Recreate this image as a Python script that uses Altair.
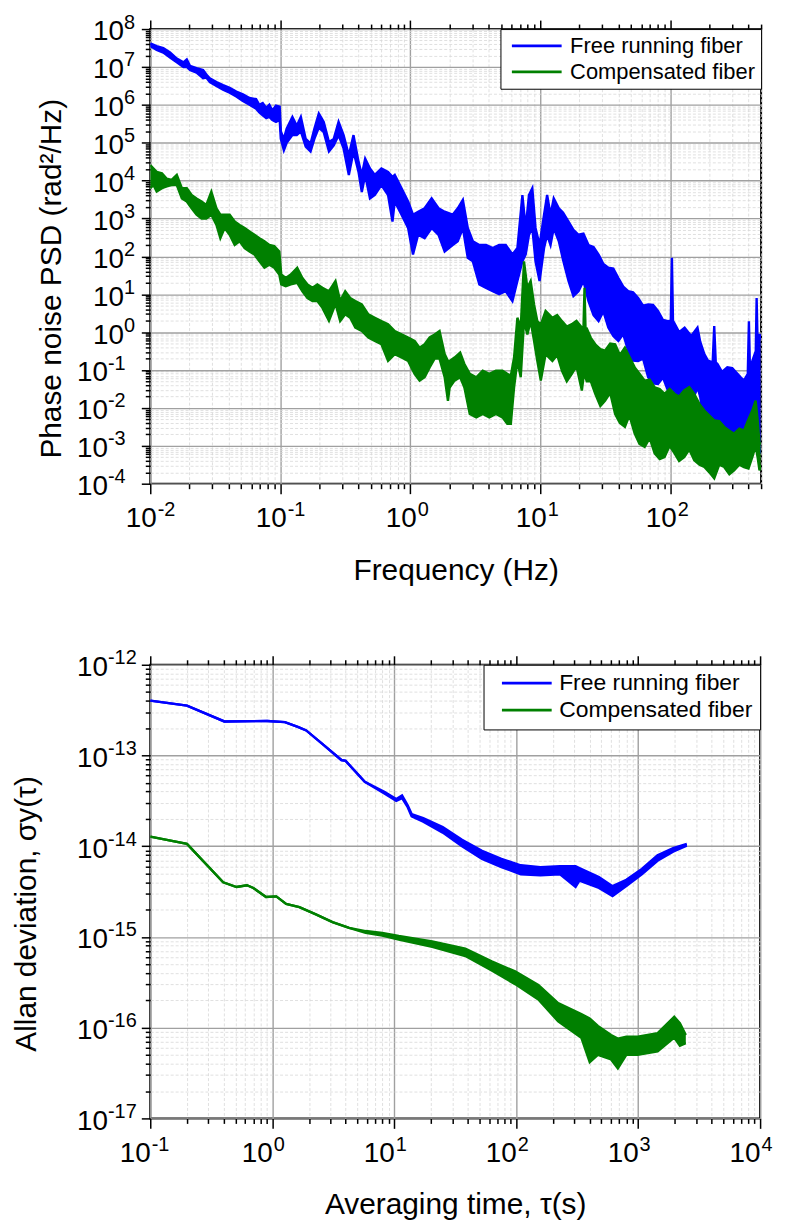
import altair as alt
import pandas as pd

# ---------------- Top panel: phase noise PSD ----------------
# frequency (Hz); lower / upper envelope of the noisy trace, in decades (log10 rad^2/Hz)
free_psd_freq = [
    0.0100, 0.0112, 0.0126, 0.0142, 0.0160, 0.0180, 0.0191, 0.0202, 0.0227, 0.0255,
    0.0270, 0.0287, 0.0323, 0.0363, 0.0408, 0.0459, 0.0516, 0.0580, 0.0652, 0.0690,
    0.0733, 0.0780, 0.0824, 0.0870, 0.0927, 0.0990, 0.1010, 0.1066, 0.1120, 0.1240,
    0.1340, 0.1440, 0.1570, 0.1710, 0.1830, 0.1980, 0.2160, 0.2370, 0.2580, 0.2810,
    0.3070, 0.3370, 0.3660, 0.4000, 0.4240, 0.4500, 0.4900, 0.5340, 0.6000, 0.6750,
    0.7300, 0.7600, 0.8570, 0.9630, 1.05, 1.15, 1.29, 1.46, 1.65, 1.84,
    2.12, 2.32, 2.54, 2.77, 3.03, 3.40, 3.83, 4.31, 4.83, 5.43,
    6.11, 6.67, 7.29, 7.73, 8.19, 8.69, 9.20, 9.88, 10.7, 11.3,
    12.0, 12.7, 13.9, 15.0, 16.5, 18.0, 19.7, 21.5, 23.5, 25.7,
    28.1, 30.6, 33.4, 36.5, 39.9, 43.5, 47.5, 51.8, 56.6, 61.8,
    67.6, 73.8, 80.5, 88.0, 96.0, 101, 103, 105, 107, 117,
    129, 145, 162, 170, 183, 195, 212, 218, 224, 231,
    250, 275, 300, 329, 350, 369, 395, 403, 410, 428,
    455, 462, 470, 486, 495,
]
free_psd_lo_dec = [
    7.55, 7.45, 7.38, 7.25, 7.12, 7.00, 7.00, 6.92, 6.85, 6.70,
    6.72, 6.60, 6.50, 6.40, 6.32, 6.22, 6.10, 6.00, 5.90, 5.80,
    5.72, 5.65, 5.68, 5.60, 5.55, 5.60, 5.10, 4.80, 5.00, 5.20,
    5.20, 5.30, 4.90, 4.77, 5.10, 5.40, 5.28, 4.77, 4.93, 5.20,
    4.85, 4.15, 4.77, 4.23, 3.70, 4.15, 3.53, 3.62, 3.88, 3.62,
    2.92, 3.45, 3.10, 2.75, 2.05, 2.57, 2.48, 2.75, 2.57, 2.13,
    2.30, 2.40, 2.75, 1.96, 1.87, 1.26, 1.17, 1.08, 1.00, 1.08,
    0.82, 1.35, 1.87, 2.05, 2.57, 2.75, 1.87, 1.35, 2.22, 2.57,
    2.30, 2.75, 2.40, 1.90, 1.35, 0.95, 1.08, 1.35, 0.82, 0.45,
    0.29, 0.55, 0.12, -0.10, -0.23, -0.05, -0.49, -0.75, -0.76, -0.70,
    -1.19, -1.35, -1.37, -1.20, -1.54, -1.50, -1.40, -1.50, -1.60, -2.00,
    -1.63, -1.90, -1.46, -1.70, -2.50, -2.30, -2.70, -2.77, -2.80, -2.85,
    -2.60, -2.95, -2.75, -3.12, -3.05, -2.85, -2.50, -2.07, -2.50, -2.95,
    -2.00, -1.63, -2.50, -3.20, -3.10,
]
free_psd_hi_dec = [
    7.62, 7.55, 7.50, 7.38, 7.22, 7.12, 7.20, 7.03, 6.97, 6.92,
    6.80, 6.70, 6.60, 6.52, 6.45, 6.35, 6.28, 6.18, 6.15, 6.00,
    6.05, 5.92, 6.00, 5.85, 5.98, 5.95, 5.30, 5.10, 5.37, 5.68,
    5.45, 5.68, 5.10, 4.98, 5.37, 5.77, 5.55, 5.02, 5.10, 5.55,
    5.20, 4.67, 5.20, 4.50, 4.15, 4.58, 4.32, 4.15, 4.32, 4.23,
    4.10, 4.15, 3.80, 3.45, 3.10, 3.18, 3.27, 3.53, 3.27, 3.18,
    3.10, 3.27, 3.49, 2.75, 2.40, 2.30, 2.30, 2.22, 2.30, 2.30,
    2.05, 2.22, 3.62, 2.75, 3.62, 3.80, 2.75, 2.30, 3.10, 3.62,
    3.10, 3.53, 3.27, 3.15, 2.92, 2.70, 2.57, 2.60, 2.30, 2.25,
    2.05, 1.80, 1.70, 1.68, 1.43, 1.20, 1.08, 1.05, 0.90, 0.70,
    0.73, 0.72, 0.56, 0.32, 0.29, 0.30, 1.96, 0.30, 0.25, 0.00,
    0.12, -0.10, 0.12, -0.25, -0.58, -0.75, -0.80, 0.16, -0.80, -0.84,
    -1.05, -0.93, -0.95, -1.10, -1.20, -1.28, -1.10, 0.29, -0.90, -0.76,
    -0.50, 0.90, -0.30, -0.05, -0.20,
]

comp_psd_freq = [
    0.0100, 0.0106, 0.0112, 0.0123, 0.0134, 0.0146, 0.0160, 0.0175, 0.0191, 0.0208,
    0.0227, 0.0248, 0.0270, 0.0295, 0.0323, 0.0346, 0.0373, 0.0408, 0.0446, 0.0487,
    0.0532, 0.0580, 0.0633, 0.0692, 0.0755, 0.0824, 0.0900, 0.0983, 0.1018, 0.1102,
    0.1205, 0.1350, 0.1480, 0.1620, 0.1770, 0.1930, 0.2110, 0.2370, 0.2660, 0.2890,
    0.3160, 0.3450, 0.3780, 0.4240, 0.4760, 0.5340, 0.6000, 0.6750, 0.7600, 0.8570,
    0.9630, 1.08, 1.18, 1.29, 1.41, 1.54, 1.68, 1.84, 1.95, 2.01,
    2.19, 2.42, 2.61, 2.87, 3.22, 3.61, 4.06, 4.56, 5.12, 5.58,
    5.94, 6.29, 6.67, 7.08, 7.50, 7.96, 8.44, 8.96, 9.50, 10.1,
    11.0, 12.4, 13.5, 14.7, 16.0, 17.5, 19.0, 20.9, 21.5, 21.9,
    22.3, 22.8, 24.5, 26.5, 29.0, 31.5, 34.5, 37.7, 41.0, 44.8,
    48.5, 53.3, 58.0, 63.6, 69.5, 75.9, 83.0, 90.4, 99.0, 108,
    117, 128, 140, 153, 168, 183, 200, 218, 238, 260,
    285, 310, 340, 369, 400, 428, 454, 470, 486, 495,
]
comp_psd_lo_dec = [
    3.80, 3.88, 3.71, 3.80, 3.85, 3.88, 3.88, 3.53, 3.45, 3.27,
    3.10, 3.00, 3.00, 3.10, 2.83, 2.48, 2.75, 2.57, 2.30, 2.40,
    2.22, 2.13, 2.05, 1.87, 1.70, 1.78, 1.70, 1.52, 1.26, 1.21,
    1.26, 1.30, 1.08, 0.90, 0.82, 0.82, 0.64, 0.30, 0.75, 0.29,
    0.47, 0.38, 0.12, 0.03, -0.14, -0.23, -0.32, -0.76, -0.58, -0.67,
    -0.76, -1.10, -1.28, -1.19, -0.93, -0.70, -0.70, -1.19, -1.81, -1.46,
    -1.28, -1.19, -1.46, -2.16, -2.25, -2.16, -2.25, -2.16, -2.25, -2.42,
    -2.42, -1.46, -0.76, -1.19, 0.29, -0.06, 0.29, -0.23, -0.76, -1.28,
    -0.58, -0.76, -0.60, -1.02, -1.30, -1.10, -0.90, -1.54, -1.20, -1.20,
    -1.20, -1.30, -1.30, -1.63, -1.95, -1.81, -1.60, -2.16, -2.40, -2.50,
    -2.20, -2.68, -2.95, -3.03, -2.80, -3.20, -3.35, -3.30, -3.00, -3.20,
    -3.40, -3.30, -3.10, -3.38, -3.50, -3.56, -3.70, -3.86, -3.50, -3.56,
    -3.75, -3.65, -3.50, -3.56, -3.60, -3.30, -3.00, -3.30, -3.65, -3.50,
]
comp_psd_hi_dec = [
    4.41, 4.32, 4.23, 4.19, 4.05, 4.02, 4.15, 3.80, 3.80, 3.62,
    3.53, 3.45, 3.36, 3.71, 3.27, 3.10, 3.10, 3.10, 2.92, 2.83,
    2.75, 2.66, 2.57, 2.48, 2.40, 2.30, 2.27, 2.13, 1.52, 1.43,
    1.52, 1.70, 1.43, 1.26, 1.17, 1.26, 1.17, 1.08, 1.35, 0.82,
    1.08, 0.90, 0.82, 0.73, 0.47, 0.38, 0.29, 0.21, 0.03, -0.06,
    -0.14, -0.23, -0.41, -0.32, -0.14, -0.06, 0.03, -0.58, -0.76, -0.76,
    -0.67, -0.54, -0.84, -1.10, -1.19, -1.02, -1.10, -1.02, -1.02, -1.10,
    -1.15, -0.67, 0.38, 0.12, 1.87, 1.17, 1.35, 0.73, 0.29, 0.20,
    0.56, 0.38, 0.45, 0.29, 0.15, 0.21, 0.30, 0.12, 0.10, 1.17,
    0.10, 0.10, -0.15, -0.32, -0.45, -0.49, -0.30, -0.32, -0.60, -0.41,
    -0.65, -0.93, -1.10, -1.28, -1.25, -1.46, -1.50, -1.63, -1.50, -1.63,
    -1.70, -1.54, -1.45, -1.63, -1.90, -2.07, -2.20, -2.33, -2.35, -2.50,
    -2.60, -2.68, -2.55, -2.60, -2.30, -2.07, -1.81, -2.30, -2.95, -2.90,
]

# ---------------- Bottom panel: Allan deviation ----------------
free_adev_tau = [0.1, 0.2, 0.405, 0.91, 1.27, 1.64, 1.9, 2.56, 3.69, 4.0,
                 5.74, 8.3, 10.4, 11.6, 12.9, 13.9, 17.3, 25, 36, 52.5,
                 75.7, 109, 158, 229, 307, 330, 477, 617, 800, 1072,
                 1442, 1935, 2506]
free_adev_lo_dec = [-12.395, -12.45, -12.625, -12.62, -12.632, -12.687, -12.724, -12.87, -13.05, -13.06,
                    -13.29, -13.42, -13.50, -13.47, -13.57, -13.67, -13.73, -13.85, -14.00, -14.14,
                    -14.23, -14.31, -14.32, -14.31, -14.45, -14.38, -14.46, -14.55, -14.44, -14.31,
                    -14.16, -14.06, -13.995]
free_adev_hi_dec = [-12.395, -12.45, -12.625, -12.62, -12.632, -12.687, -12.724, -12.87, -13.05, -13.06,
                    -13.29, -13.40, -13.48, -13.44, -13.55, -13.645, -13.69, -13.79, -13.93, -14.05,
                    -14.14, -14.21, -14.23, -14.22, -14.22, -14.24, -14.34, -14.44, -14.37, -14.25,
                    -14.10, -14.02, -13.975]

comp_adev_tau = [0.1, 0.2, 0.396, 0.51, 0.62, 0.70, 0.89, 1.08, 1.30, 1.67,
                 2.28, 3.12, 4.27, 5.83, 7.98, 10.9, 20.5, 38.3, 63, 98,
                 152, 221, 342, 401, 468, 600, 682, 800, 993, 1445,
                 1977, 2200, 2460]
comp_adev_lo_dec = [-13.894, -13.974, -14.398, -14.45, -14.43, -14.46, -14.56, -14.553, -14.635, -14.672,
                    -14.752, -14.837, -14.90, -14.955, -14.985, -15.03, -15.11, -15.21, -15.37, -15.52,
                    -15.69, -15.93, -16.11, -16.38, -16.30, -16.35, -16.45, -16.30, -16.30, -16.26,
                    -16.11, -16.20, -16.17]
comp_adev_hi_dec = [-13.894, -13.974, -14.398, -14.45, -14.43, -14.46, -14.56, -14.553, -14.635, -14.672,
                    -14.752, -14.837, -14.90, -14.935, -14.955, -14.99, -15.05, -15.13, -15.27, -15.38,
                    -15.53, -15.73, -15.85, -15.90, -15.98, -16.08, -16.12, -16.10, -16.10, -16.06,
                    -15.88, -15.95, -16.08]

SERIES = ["Free running fiber", "Compensated fiber"]
BLUE, GREEN = "#0000ff", "#008000"
FONT = "Liberation Sans"

IS_DEC = "abs(log(datum.value)/LN10 - round(log(datum.value)/LN10)) < 0.001"
EXPO = "toString(round(log(datum.value)/LN10))"


def band_df(xs, lo, hi, name):
    return pd.DataFrame({"x": xs, "lo": [10 ** v for v in lo],
                         "hi": [10 ** v for v in hi], "series": name})


def log_ticks(e0, e1, vmax):
    out = []
    for k in range(e0, e1 + 1):
        for m in range(1, 10):
            v = float(f"{m}e{k}")
            if v <= vmax * 1.0001:
                out.append(v)
    return out


def cond(test, a, b):
    return {"condition": {"test": test, "value": a}, "value": b}


def panel(df_free, df_comp, xdom, ydom, xticks, yticks, xdec, ydec,
          xtitle, ytitle, w, h, ytitle_x, x10_off, xexp_off, legend_kw):
    xs = alt.Scale(type="log", domain=xdom, nice=False)
    ys = alt.Scale(type="log", domain=ydom, nice=False)
    corners = pd.DataFrame({"x": xdom, "y": ydom})

    grid_common = dict(
        grid=True,
        gridColor=cond(IS_DEC, "#a0a0a0", "#d8d8d8"),
        gridDash=cond(IS_DEC, [], [3, 2]),
        gridWidth=cond(IS_DEC, 1.4, 0.8),
        ticks=True, tickColor="black", tickWidth=1.5, domain=False,
        labelFont=FONT, labelColor="black", labelFlush=False, labelOverlap=False,
        titleFont=FONT, titleFontSize=30, titleFontWeight="normal", titleColor="black",
    )
    x_main = alt.Axis(
        orient="bottom", values=xticks, tickSize=cond(IS_DEC, 10, 5),
        labelExpr=f"({IS_DEC}) ? '10' : ''", labelFontSize=28,
        labelAlign="right", labelBaseline="top", labelOffset=x10_off, labelPadding=11,
        title=xtitle, titleY=72, titleBaseline="top", titleAlign="center",
        **grid_common)
    y_main = alt.Axis(
        orient="left", values=yticks, tickSize=cond(IS_DEC, 9, 5),
        labelExpr=f"({IS_DEC}) ? '10' : ''", labelFontSize=28,
        labelAlign="right", labelBaseline="middle", labelOffset=3,
        labelPadding=cond("datum.value >= 1", 18, 34),
        title=ytitle, titleX=ytitle_x, titleY=h / 2 + 22, titleAngle=270,
        titleBaseline="alphabetic", titleAlign="center",
        **grid_common)
    expo_common = dict(grid=False, ticks=False, tickSize=0, domain=False,
                       labelFont=FONT, labelColor="black", labelFontSize=20,
                       labelFlush=False, labelOverlap=False, labelExpr=EXPO, title=None)
    x_exp = alt.Axis(orient="bottom", values=xdec, labelAlign="left",
                     labelBaseline="top", labelOffset=xexp_off, labelPadding=16,
                     **expo_common)
    y_exp = alt.Axis(orient="left", values=ydec, labelAlign="left",
                     labelBaseline="middle", labelOffset=-7,
                     labelPadding=cond("datum.value >= 1", 27, 43),
                     **expo_common)
    x_top = alt.Axis(orient="top", values=xticks, tickSize=cond(IS_DEC, 9, 5),
                     ticks=True, tickColor="black", tickWidth=1.5, labels=False,
                     grid=False, domain=False, title=None)

    base = alt.Chart(corners).mark_point(opacity=0)
    l_main = base.encode(x=alt.X("x:Q", scale=xs, axis=x_main),
                         y=alt.Y("y:Q", scale=ys, axis=y_main))
    l_exp = base.encode(x=alt.X("x:Q", scale=xs, axis=x_exp),
                        y=alt.Y("y:Q", scale=ys, axis=y_exp))
    l_top = base.encode(x=alt.X("x:Q", scale=xs, axis=x_top),
                        y=alt.Y("y:Q", scale=ys, axis=None))

    legend = alt.Legend(
        title=None, orient="top-right", offset=0, symbolType="stroke",
        symbolSize=2500, symbolStrokeWidth=2.8, labelFont=FONT, labelColor="black",
        fillColor="white", strokeColor="black", cornerRadius=0, labelLimit=500,
        **legend_kw)
    color = alt.Color("series:N", scale=alt.Scale(domain=SERIES, range=[BLUE, GREEN]),
                      legend=legend)

    layers = [l_main, l_exp, l_top]
    for df, col in ((df_free, BLUE), (df_comp, GREEN)):
        src = alt.Chart(df)
        layers.append(src.mark_area(color=col, opacity=1, clip=True).encode(
            x=alt.X("x:Q", scale=xs, axis=None),
            y=alt.Y("lo:Q", scale=ys, axis=None), y2="hi:Q"))
        for fld in ("lo", "hi"):
            layers.append(src.mark_line(strokeWidth=2.4, clip=True).encode(
                x=alt.X("x:Q", scale=xs, axis=None),
                y=alt.Y(f"{fld}:Q", scale=ys, axis=None),
                color=color, order="x:Q"))
    return alt.layer(*layers).resolve_axis(x="independent", y="independent").properties(
        width=w, height=h)


top = panel(
    band_df(free_psd_freq, free_psd_lo_dec, free_psd_hi_dec, SERIES[0]),
    band_df(comp_psd_freq, comp_psd_lo_dec, comp_psd_hi_dec, SERIES[1]),
    [0.01, 500], [1e-4, 1e8],
    log_ticks(-2, 2, 500), log_ticks(-4, 8, 1e8),
    [float(f"1e{k}") for k in range(-2, 3)], [float(f"1e{k}") for k in range(-4, 9)],
    "Frequency (Hz)", "Phase noise PSD (rad\u00b2/Hz)", 614, 457, -90, 6, 7,
    dict(padding=6, symbolOffset=4, labelFontSize=22, labelOffset=7, rowPadding=4,
         clipHeight=22, labelExpr="datum.label + '\u00a0\u00a0'"),
)

bottom = panel(
    band_df(free_adev_tau, free_adev_lo_dec, free_adev_hi_dec, SERIES[0]),
    band_df(comp_adev_tau, comp_adev_lo_dec, comp_adev_hi_dec, SERIES[1]),
    [0.1, 1e4], [1e-17, 1e-12],
    log_ticks(-1, 4, 1e4), log_ticks(-17, -12, 1e-12),
    [float(f"1e{k}") for k in range(-1, 5)], [float(f"1e{k}") for k in range(-17, -11)],
    "Averaging time, \u03c4(s)", "Allan deviation, \u03c3y(\u03c4)", 613, 456, -115, 0, 1,
    dict(padding=7, symbolOffset=10, labelFontSize=23, labelOffset=6, rowPadding=3,
         clipHeight=23, labelExpr="datum.label + '\u00a0\u00a0\u00a0\u00a0'"),
)

chart = alt.vconcat(top, bottom, spacing=182, bounds="flush").resolve_legend(
    color="independent"
).configure(
    font=FONT, padding={"left": 3, "top": 0, "right": 5, "bottom": 5}
).configure_view(stroke="black", strokeWidth=2)

chart.save("out.html", embed_options={"renderer": "svg", "actions": False})
